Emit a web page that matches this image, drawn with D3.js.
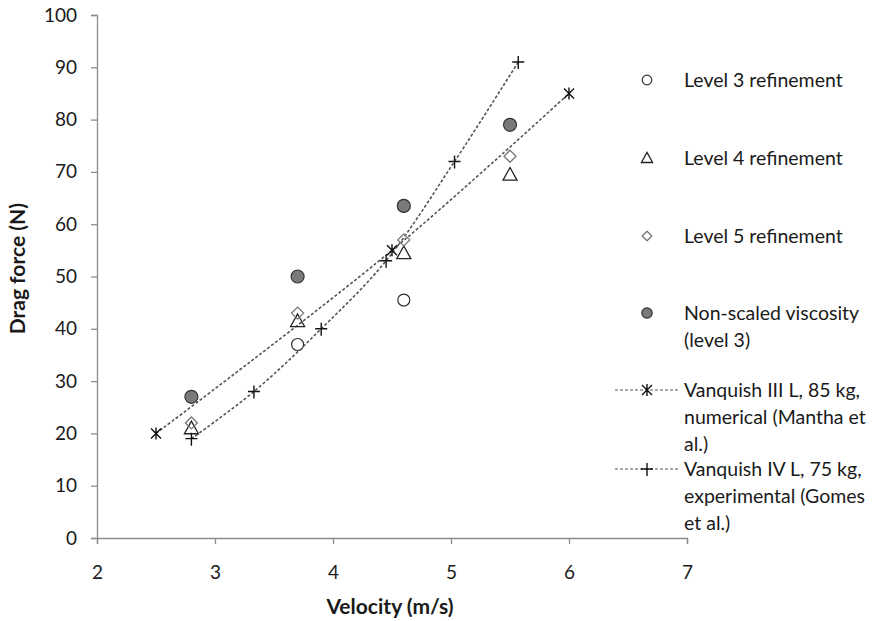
<!DOCTYPE html>
<html>
<head>
<meta charset="utf-8">
<script src="https://cdn.jsdelivr.net/npm/d3@7"></script>
<style>
  body { margin: 0; background: #fff; }
  text { font-family: Lato, "Open Sans", sans-serif; fill: #1a1a1a; }
</style>
</head>
<body>
<svg id="chart"></svg>
<script>
// values
var level3Vel = [3.7, 4.6];
var level3Drag = [37, 45.5];
var level4Vel = [2.8, 3.7, 4.6, 5.5];
var level4Drag = [21, 41.5, 54.5, 69.5];
var level5Vel = [2.8, 3.7, 4.6, 5.5];
var level5Drag = [22, 43, 57, 73];
var nonScaledVel = [2.8, 3.7, 4.6, 5.5];
var nonScaledDrag = [27, 50, 63.5, 79];
var manthaVel = [2.5, 4.5, 6.0];
var manthaDrag = [20, 55, 85];
var gomesVel = [2.8, 3.33, 3.9, 4.45, 5.03, 5.57];
var gomesDrag = [19, 28, 40, 53, 72, 91];
var xTicks = [2, 3, 4, 5, 6, 7];
var yTicks = [0, 10, 20, 30, 40, 50, 60, 70, 80, 90, 100];

var width = 877,
    height = 621;
var margin = {left: 97, top: 15, right: 190, bottom: 83};

var svg = d3.select("#chart")
    .attr("width", width)
    .attr("height", height);

var x = d3.scaleLinear().domain([2, 7]).range([margin.left, width - margin.right]);
var y = d3.scaleLinear().domain([0, 100]).range([height - margin.bottom, margin.top]);

function zip(xs, ys) {
    return xs.map(function(v, i) { return [v, ys[i]]; });
}

// axes
var xAxis = svg.append("g")
    .attr("transform", "translate(0," + y(0) + ")")
    .call(d3.axisBottom(x).tickValues(xTicks).tickSize(6).tickPadding(22).tickFormat(d3.format("d")));
var yAxis = svg.append("g")
    .attr("transform", "translate(" + x(2) + ",0)")
    .call(d3.axisLeft(y).tickValues(yTicks).tickSize(6).tickPadding(14).tickFormat(d3.format("d")));
[xAxis, yAxis].forEach(function(g) {
    g.select(".domain").attr("stroke", "#8c8c8c").attr("stroke-width", 1.3);
    g.selectAll(".tick line").attr("stroke", "#8c8c8c").attr("stroke-width", 1.3);
    g.selectAll(".tick text").style("font-size", "19px").attr("fill", "#1a1a1a");
});

svg.append("text")
    .attr("x", x(4.5) - 2)
    .attr("y", 614)
    .attr("text-anchor", "middle")
    .style("font-size", "21px")
    .style("font-weight", "bold")
    .text("Velocity (m/s)");
svg.append("text")
    .attr("transform", "translate(25," + y(51.5) + ") rotate(-90)")
    .attr("text-anchor", "middle")
    .style("font-size", "21px")
    .style("font-weight", "bold")
    .text("Drag force (N)");

// marker drawing
var star = "M-5,-5L5,5M-5,5L5,-5M0,-6L0,6";
var plus = "M-6,0L6,0M0,-6L0,7";

function drawMarker(g, kind, px, py, s) {
    s = s || 1;
    if (kind == "open") {
        g.append("circle").attr("cx", px).attr("cy", py).attr("r", 6 * s)
            .attr("fill", "#fff").attr("stroke", "#333").attr("stroke-width", 1.2);
    } else if (kind == "filled") {
        g.append("circle").attr("cx", px).attr("cy", py).attr("r", 6.5 * s)
            .attr("fill", "#7a7a7a").attr("stroke", "#333").attr("stroke-width", 1.2);
    } else if (kind == "tri") {
        var h = 7 * s;
        g.append("path")
            .attr("d", "M" + px + "," + (py - h) + "L" + (px + h) + "," + (py + h * 0.8) + "L" + (px - h) + "," + (py + h * 0.8) + "Z")
            .attr("fill", "none").attr("stroke", "#222").attr("stroke-width", 1.3);
    } else if (kind == "diamond") {
        var d = 6 * s;
        g.append("path")
            .attr("d", "M" + px + "," + (py - d) + "L" + (px + d) + "," + py + "L" + px + "," + (py + d) + "L" + (px - d) + "," + py + "Z")
            .attr("fill", "none").attr("stroke", "#777").attr("stroke-width", 1.3);
    } else if (kind == "star") {
        g.append("path").attr("d", star).attr("transform", "translate(" + px + "," + py + ")")
            .attr("stroke", "#111").attr("stroke-width", 1.4).attr("fill", "none");
    } else if (kind == "plus") {
        g.append("path").attr("d", plus).attr("transform", "translate(" + px + "," + py + ")")
            .attr("stroke", "#111").attr("stroke-width", 1.4).attr("fill", "none");
    }
}

// dashed series lines
var line = d3.line()
    .x(function(d) { return x(d[0]); })
    .y(function(d) { return y(d[1]); })
    .curve(d3.curveCatmullRom.alpha(0.5));

var lineSeries = [
    {pts: zip(manthaVel, manthaDrag), kind: "star"},
    {pts: zip(gomesVel, gomesDrag), kind: "plus"}
];
lineSeries.forEach(function(s) {
    svg.append("path")
        .attr("d", line(s.pts))
        .attr("fill", "none")
        .attr("stroke", "#555")
        .attr("stroke-width", 1.6)
        .attr("stroke-dasharray", "3,2");
});

var pointSeries = [
    {pts: zip(nonScaledVel, nonScaledDrag), kind: "filled"},
    {pts: zip(level3Vel, level3Drag), kind: "open"},
    {pts: zip(level4Vel, level4Drag), kind: "tri"},
    {pts: zip(level5Vel, level5Drag), kind: "diamond"}
];
var marks = svg.append("g");
pointSeries.concat(lineSeries).forEach(function(s) {
    s.pts.forEach(function(p) {
        drawMarker(marks, s.kind, x(p[0]), y(p[1]));
    });
});

// legend
var legendItems = [
    {kind: "open", y: 80, lines: ["Level 3 refinement"]},
    {kind: "tri", y: 158, lines: ["Level 4 refinement"]},
    {kind: "diamond", y: 236, lines: ["Level 5 refinement"]},
    {kind: "filled", y: 313, lines: ["Non-scaled viscosity", "(level 3)"]},
    {kind: "star", y: 390, lines: ["Vanquish III L, 85 kg,", "numerical (Mantha et", "al.)"], dashed: true},
    {kind: "plus", y: 469, lines: ["Vanquish IV L, 75 kg,", "experimental (Gomes", "et al.)"], dashed: true}
];
var legend = svg.append("g");
legendItems.forEach(function(item) {
    if (item.dashed) {
        legend.append("line")
            .attr("x1", 615).attr("x2", 679)
            .attr("y1", item.y).attr("y2", item.y)
            .attr("stroke", "#555").attr("stroke-width", 1.2)
            .attr("stroke-dasharray", "3,2");
    }
    drawMarker(legend, item.kind, 647, item.y, 0.8);
    item.lines.forEach(function(t, i) {
        legend.append("text")
            .attr("x", 684)
            .attr("y", item.y + i * 27)
            .attr("dy", "0.35em")
            .style("font-size", "19.5px")
            .text(t);
    });
});
</script>
</body>
</html>
